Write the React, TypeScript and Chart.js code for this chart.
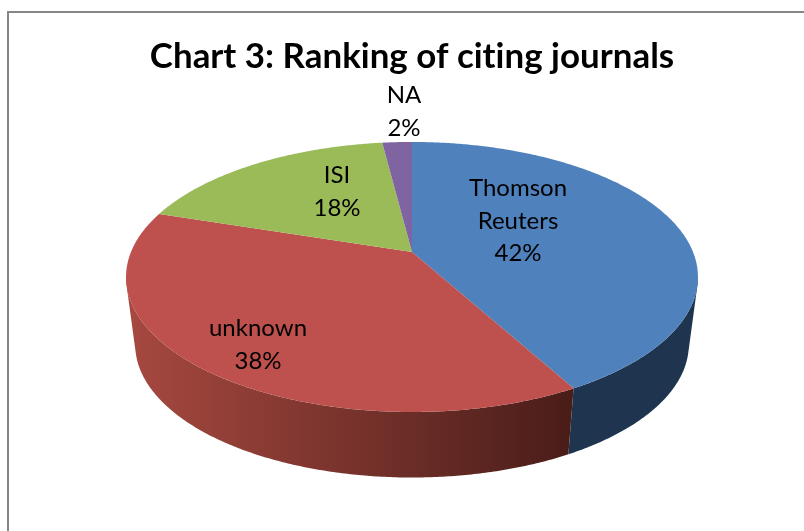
import React, { useEffect, useRef } from "react";
import { Chart, registerables } from "chart.js";

Chart.register(...registerables);

const categories = ["Thomson\nReuters", "unknown", "ISI", "NA"];
const shares = [42, 38, 18, 2];
const topColors = ["#4F81BD", "#BE504D", "#9BBB59", "#8064A2"];
const sideLeftColors = ["#1F344E", "#A5483F", "#5D7033", "#4C3C61"];
const sideRightColors = ["#1F344E", "#4A1D19", "#5D7033", "#4C3C61"];
const titleText = "Chart 3: Ranking of citing journals";

const FONT = "Lato, 'Open Sans', sans-serif";
// Placement of the data labels, relative to the centre of the pie's top face.
const labelOffsets = [
  [106, -56],
  [-154, 68],
  [-75, -85],
  [-8, -165],
];

// Perspective projection of the pie disc, in units of the element's outer radius.
const project = (arc: any, angle: number, bottom: boolean) => {
  const R = arc.outerRadius;
  const u = Math.cos(angle);
  const v = Math.sin(angle);
  const w = 1 - 0.185 * v;
  const a = (bottom ? 272 / 135 : 281 / 135) * R;
  const b = (bottom ? 133 / 135 : 1) * R;
  const c = (-25 / 135) * R;
  const dy = bottom ? (68 / 135) * R : 0;
  return { x: arc.x + (a * u) / w, y: arc.y + dy + (b * v + c) / w };
};

const WALL_FROM = (10 * Math.PI) / 180;
const WALL_TO = (170 * Math.PI) / 180;

const pie3d = {
  id: "pie3d",
  beforeDraw(chart: any) {
    const { ctx, width, height } = chart;
    ctx.save();
    ctx.fillStyle = "#FFFFFF";
    ctx.fillRect(0, 0, width, height);
    ctx.strokeStyle = "#868686";
    ctx.lineWidth = 2;
    ctx.beginPath();
    ctx.moveTo(width + 2, 12);
    ctx.lineTo(8, 12);
    ctx.lineTo(8, height + 2);
    ctx.stroke();
    ctx.restore();
    // Turns off the "ti" ligature of the font for every text on the canvas.
    ctx.letterSpacing = "0.01px";
  },
  beforeDatasetsDraw(chart: any) {
    const { ctx } = chart;
    const arcs = chart.getDatasetMeta(0).data;
    const step = Math.PI / 360;
    ctx.save();
    // Side wall: only its visible front part, as one path per slice.
    arcs.forEach((arc: any, i: number) => {
      const from = Math.max(arc.startAngle, WALL_FROM);
      const to = Math.min(arc.endAngle, WALL_TO);
      if (to <= from) return;
      const left = project(arc, to, true).x;
      const right = project(arc, from, true).x;
      const g = ctx.createLinearGradient(left, 0, right, 0);
      g.addColorStop(0, sideLeftColors[i]);
      g.addColorStop(1, sideRightColors[i]);
      ctx.fillStyle = g;
      ctx.beginPath();
      for (let a = from; a < to; a += step) {
        const e = Math.min(a + step, to);
        const p = [project(arc, a, false), project(arc, e, false), project(arc, e, true), project(arc, a, true)];
        let area = 0;
        p.forEach((q, n) => {
          const r = p[(n + 1) % 4];
          area += q.x * r.y - r.x * q.y;
        });
        if (area < 0) p.reverse();
        p.forEach((q, n) => (n ? ctx.lineTo(q.x, q.y) : ctx.moveTo(q.x, q.y)));
        ctx.closePath();
      }
      ctx.fill("nonzero");
    });
    // Top face.
    arcs.forEach((arc: any, i: number) => {
      const apex = { x: arc.x, y: arc.y + (-25 / 135) * arc.outerRadius };
      ctx.fillStyle = topColors[i];
      ctx.beginPath();
      ctx.moveTo(apex.x, apex.y);
      for (let a = arc.startAngle; a < arc.endAngle; a += step) {
        const q = project(arc, a, false);
        ctx.lineTo(q.x, q.y);
      }
      const q = project(arc, arc.endAngle, false);
      ctx.lineTo(q.x, q.y);
      ctx.closePath();
      ctx.fill();
    });
    // Data labels.
    const total = shares.reduce((s, x) => s + x, 0);
    ctx.fillStyle = "#000000";
    ctx.font = `24px ${FONT}`;
    ctx.textAlign = "center";
    ctx.textBaseline = "middle";
    arcs.forEach((arc: any, i: number) => {
      const lines = [...categories[i].split("\n"), `${Math.round((shares[i] / total) * 100)}%`];
      const lh = 32.7;
      const cx = arc.x + labelOffsets[i][0];
      const cy = arc.y + labelOffsets[i][1];
      lines.forEach((t, n) => ctx.fillText(t, cx, cy + (n - (lines.length - 1) / 2) * lh));
    });
    ctx.restore();
    return false;
  },
};

export default function App() {
  const ref = useRef<HTMLCanvasElement>(null);
  useEffect(() => {
    const chart = new Chart(ref.current!, {
      type: "pie",
      data: {
        labels: categories,
        datasets: [{ data: shares, backgroundColor: topColors, borderWidth: 0 }],
      },
      options: {
        responsive: false,
        animation: false,
        devicePixelRatio: 1,
        layout: { padding: { left: 20, right: 0, top: 0, bottom: 119 } },
        plugins: {
          legend: { display: false },
          tooltip: { enabled: false },
          title: {
            display: true,
            text: titleText,
            fullSize: false,
            color: "#000000",
            font: { family: FONT, size: 34.9, weight: "bold", lineHeight: 1.2 },
            padding: { top: 36, bottom: 64.1 },
          },
        },
      } as any,
      plugins: [pie3d],
    });
    return () => chart.destroy();
  }, []);
  return (
    <canvas
      ref={ref}
      width={804}
      height={531}
      style={{ position: "absolute", left: 0, top: 0, display: "block", width: 804, height: 531 }}
    />
  );
}
